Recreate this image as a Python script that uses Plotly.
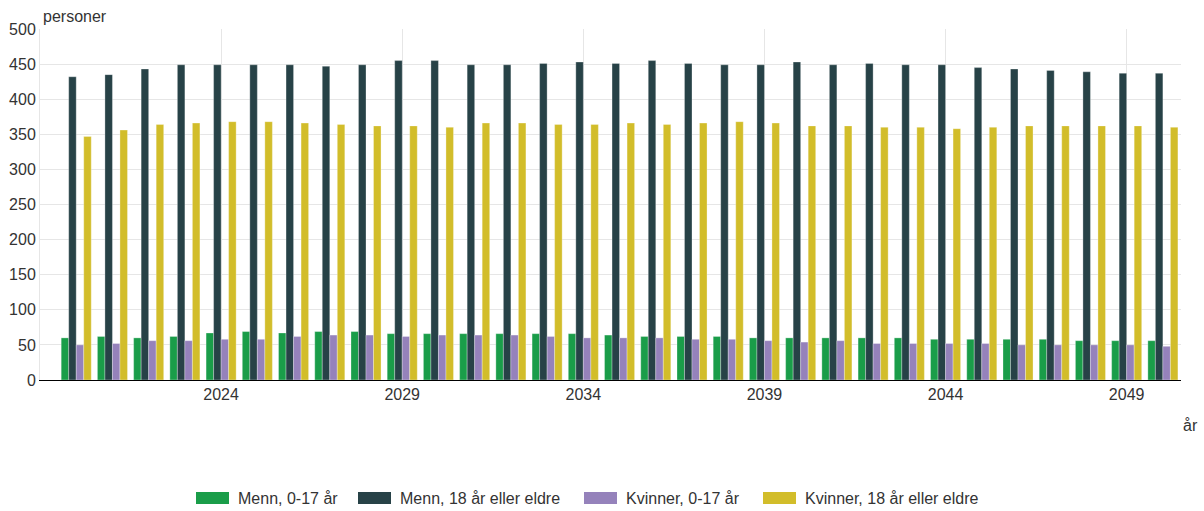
import plotly.graph_objects as go

years = list(range(2020, 2051))

menn_0_17 = [60, 62, 60, 62, 67, 69, 67, 69, 69, 66,
             66, 66, 66, 66, 66, 64, 62, 62, 62, 60,
             60, 60, 60, 60, 58, 58, 58, 58, 56, 56, 56]
menn_18 = [432, 435, 443, 449, 449, 449, 449, 447, 449, 455,
           455, 449, 449, 451, 453, 451, 455, 451, 449, 449,
           453, 449, 451, 449, 449, 445, 443, 441, 439, 437, 437]
kvinner_0_17 = [50, 52, 56, 56, 58, 58, 62, 64, 64, 62,
                64, 64, 64, 62, 60, 60, 60, 58, 58, 56,
                54, 56, 52, 52, 52, 52, 50, 50, 50, 50, 48]
kvinner_18 = [347, 356, 364, 366, 368, 368, 366, 364, 362, 362,
              360, 366, 366, 364, 364, 366, 364, 366, 368, 366,
              362, 362, 360, 360, 358, 360, 362, 362, 362, 362, 360]

series_names = ["Menn, 0-17 år", "Menn, 18 år eller eldre",
                "Kvinner, 0-17 år", "Kvinner, 18 år eller eldre"]
series_values = [menn_0_17, menn_18, kvinner_0_17, kvinner_18]
colors = ["#1a9d49", "#274247", "#9582bb", "#d2bd2a"]

tick_years = [2024, 2029, 2034, 2039, 2044, 2049]
y_ticks = list(range(0, 501, 50))

font_family = "Liberation Sans, Arial, sans-serif"
txt_color = "#333333"

# page body margin is removed in post_script, so figure px == page px
W, H = 1204, 511
L, T = 40, 29
R = W - 1181
B = H - 380
pw, ph = W - L - R, H - T - B


def px2paper_x(px):
    return (px - L) / pw


def px2paper_y(py):
    return (H - B - py) / ph


fig = go.Figure()
for name, vals, col in zip(series_names, series_values, colors):
    fig.add_trace(go.Bar(
        x=years, y=vals, name=name,
        marker=dict(color=col, line=dict(color="rgba(255,255,255,0.6)", width=0.5)),
        showlegend=False,
    ))

# custom legend (swatch + label)
legend_swatch_left = [196, 358, 584, 763]
legend_text_left = [236, 398, 624, 803]
legend_cy = 498
shapes = []
annotations = []
for name, col, sx, tx in zip(series_names, colors, legend_swatch_left, legend_text_left):
    shapes.append(dict(
        type="rect", xref="paper", yref="paper",
        x0=px2paper_x(sx), x1=px2paper_x(sx + 33),
        y0=px2paper_y(legend_cy + 6), y1=px2paper_y(legend_cy - 6),
        fillcolor=col, line=dict(width=0), layer="above",
    ))
    annotations.append(dict(
        text=name, xref="paper", yref="paper",
        x=px2paper_x(tx), y=px2paper_y(legend_cy),
        xanchor="left", yanchor="middle", showarrow=False,
        font=dict(size=16, color=txt_color),
    ))

annotations.append(dict(
    text="personer", xref="paper", yref="paper",
    x=px2paper_x(41), y=px2paper_y(16),
    xanchor="left", yanchor="middle", showarrow=False,
    font=dict(size=16, color=txt_color)))
annotations.append(dict(
    text="år", xref="paper", yref="paper",
    x=px2paper_x(1181), y=px2paper_y(425),
    xanchor="left", yanchor="middle", showarrow=False,
    font=dict(size=16, color=txt_color)))

fig.update_layout(
    width=W, height=H,
    barmode="group",
    bargap=0.17,
    bargroupgap=0,
    plot_bgcolor="white",
    paper_bgcolor="white",
    font=dict(family=font_family, size=16, color=txt_color),
    margin=dict(l=L, r=R, t=T, b=B, autoexpand=False),
    showlegend=False,
    xaxis=dict(
        range=[2019, 2050.5],
        tickvals=tick_years,
        ticktext=[str(t) for t in tick_years],
        showgrid=True, gridcolor="#e6e6e6", gridwidth=1,
        showline=True, linecolor="#000000", linewidth=1,
        ticks="", tickfont=dict(size=16, color=txt_color),
        zeroline=False, automargin=False,
    ),
    yaxis=dict(
        range=[0, 500],
        tickvals=y_ticks,
        showgrid=True, gridcolor="#e6e6e6", gridwidth=1,
        showline=True, linecolor="#e6e6e6", linewidth=1,
        ticks="", tickfont=dict(size=16, color=txt_color),
        zeroline=False, automargin=False,
    ),
    shapes=shapes,
    annotations=annotations,
)

fig.write_html(
    "out.html",
    config={"displayModeBar": False},
    post_script="document.body.style.margin='0px';document.body.style.overflow='hidden';",
)
